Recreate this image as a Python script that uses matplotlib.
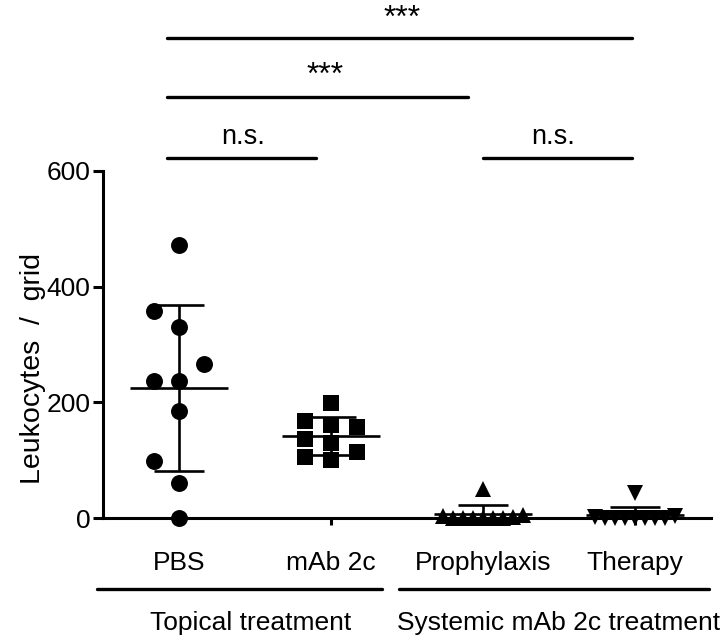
import numpy as np
import matplotlib
matplotlib.use("Agg")
import matplotlib.pyplot as plt
from matplotlib.lines import Line2D

# ---------------- data ----------------
groups = ["PBS", "mAb 2c", "Prophylaxis", "Therapy"]
pbs = [0, 61, 99, 185, 237, 237, 266, 330, 358, 472]
mab2c = [100, 105, 114, 130, 136, 158, 161, 168, 199]
prophylaxis = [0, 0, 0, 0, 0, 0, 2, 4, 5, 50]
therapy = [0, 0, 0, 0, 0, 0, 0, 2, 3, 43]
y_ticks = [0, 200, 400, 600]
ylabel = "Leukocytes  /  grid"
group_titles = ["Topical treatment", "Systemic mAb 2c treatment"]
comparisons = [("n.s.", 0), ("n.s.", 1), ("***", 2), ("***", 3)]

series = [pbs, mab2c, prophylaxis, therapy]
markers = ["o", "s", "^", "v"]
msizes = [12.2, 11.5, 11.5, 11.5]

FONT = "Liberation Sans"
plt.rcParams["font.family"] = [FONT, "DejaVu Sans"]

W, H, DPI = 722, 641, 100
fig = plt.figure(figsize=(W / DPI, H / DPI), dpi=DPI)
ax_l, ax_r, ax_b, ax_t = 103, 711, 518, 171
ax = fig.add_axes([ax_l / W, 1 - ax_b / H, (ax_r - ax_l) / W, (ax_b - ax_t) / H])
ax.set_xlim(0.5, 4.5)
ax.set_ylim(0, 600)

px_per_x = (ax_r - ax_l) / 4.0
px_per_y = (ax_b - ax_t) / 600.0


def swarm(vals, step_px, thr_x, thr_y, first=-1):
    """simple greedy beeswarm offsets (in data x units)"""
    placed = []
    offs = []
    for v in vals:
        ypx = v * px_per_y
        k_order = [0]
        for k in range(1, 30):
            k_order += [first * k, -first * k]
        for k in k_order:
            xpx = k * step_px
            ok = all(not (abs(xpx - px) < thr_x and abs(ypx - py) < thr_y)
                     for px, py in placed)
            if ok:
                placed.append((xpx, ypx))
                offs.append(xpx / px_per_x)
                break
    return np.array(offs)


swarm_params = [(25, 20, 23), (13, 17, 17), (10, 9, 14), (10, 9, 14)]

lw = 1.9
for i, (vals, mk, ms, sp) in enumerate(zip(series, markers, msizes, swarm_params)):
    xc = i + 1
    v = np.array(vals, dtype=float)
    offs = swarm(v, *sp)
    ax.plot(xc + offs, v, linestyle="none", marker=mk, ms=ms, color="black",
            markeredgewidth=0, clip_on=False, zorder=3)
    m = v.mean()
    sd = v.std(ddof=1)
    ax.hlines(m, xc - 0.32, xc + 0.32, color="black", lw=lw, zorder=4)
    ax.hlines([m - sd, m + sd], xc - 0.165, xc + 0.165, color="black", lw=lw, zorder=4)
    ax.vlines(xc, max(m - sd, 0), m + sd, color="black", lw=lw, zorder=4)

# axes styling
for s in ["top", "right"]:
    ax.spines[s].set_visible(False)
for s in ["left", "bottom"]:
    ax.spines[s].set_linewidth(2.2)
ax.set_yticks(y_ticks)
ax.set_yticklabels([str(t) for t in y_ticks], fontsize=19)
ax.set_xticks(range(1, 5))
ax.set_xticklabels(groups, fontsize=19)
ax.tick_params(axis="y", length=7, width=2.2, pad=2)
ax.tick_params(axis="x", length=5, width=2.2, pad=19)
ax.set_ylabel(ylabel, fontsize=20.5)
ax.yaxis.set_label_coords(-0.094, 0.43)

# significance bars (axes-relative y)
trans = ax.get_xaxis_transform()
bars = [
    (0.92, 1.9, 1.0375, 1.098, 1.42, "n.s.", 19.5),
    (3.0, 3.98, 1.0375, 1.098, 3.46, "n.s.", 19.5),
    (0.92, 2.9, 1.213, 1.275, 1.96, "***", 23),
    (0.92, 3.98, 1.383, 1.437, 2.47, "***", 23),
]
for (lab, idx) in comparisons:
    x0, x1, yl, yt, xt, _, fs = bars[idx]
    ax.add_line(Line2D([x0, x1], [yl, yl], transform=trans, color="black",
                       lw=2.4, solid_capstyle="round", clip_on=False))
    ax.text(xt, yt, lab, transform=trans, ha="center", va="center", fontsize=fs)

# group lines below axis
glines = [(0.46, 2.335, 1.47), (2.45, 4.49, 3.5)]
for (x0, x1, xt), title in zip(glines, group_titles):
    ax.add_line(Line2D([x0, x1], [-0.205, -0.205], transform=trans, color="black",
                       lw=2.4, solid_capstyle="round", clip_on=False))
    ax.text(xt, -0.303, title, transform=trans, ha="center", va="center", fontsize=19)

fig.savefig("out.png", dpi=DPI)
